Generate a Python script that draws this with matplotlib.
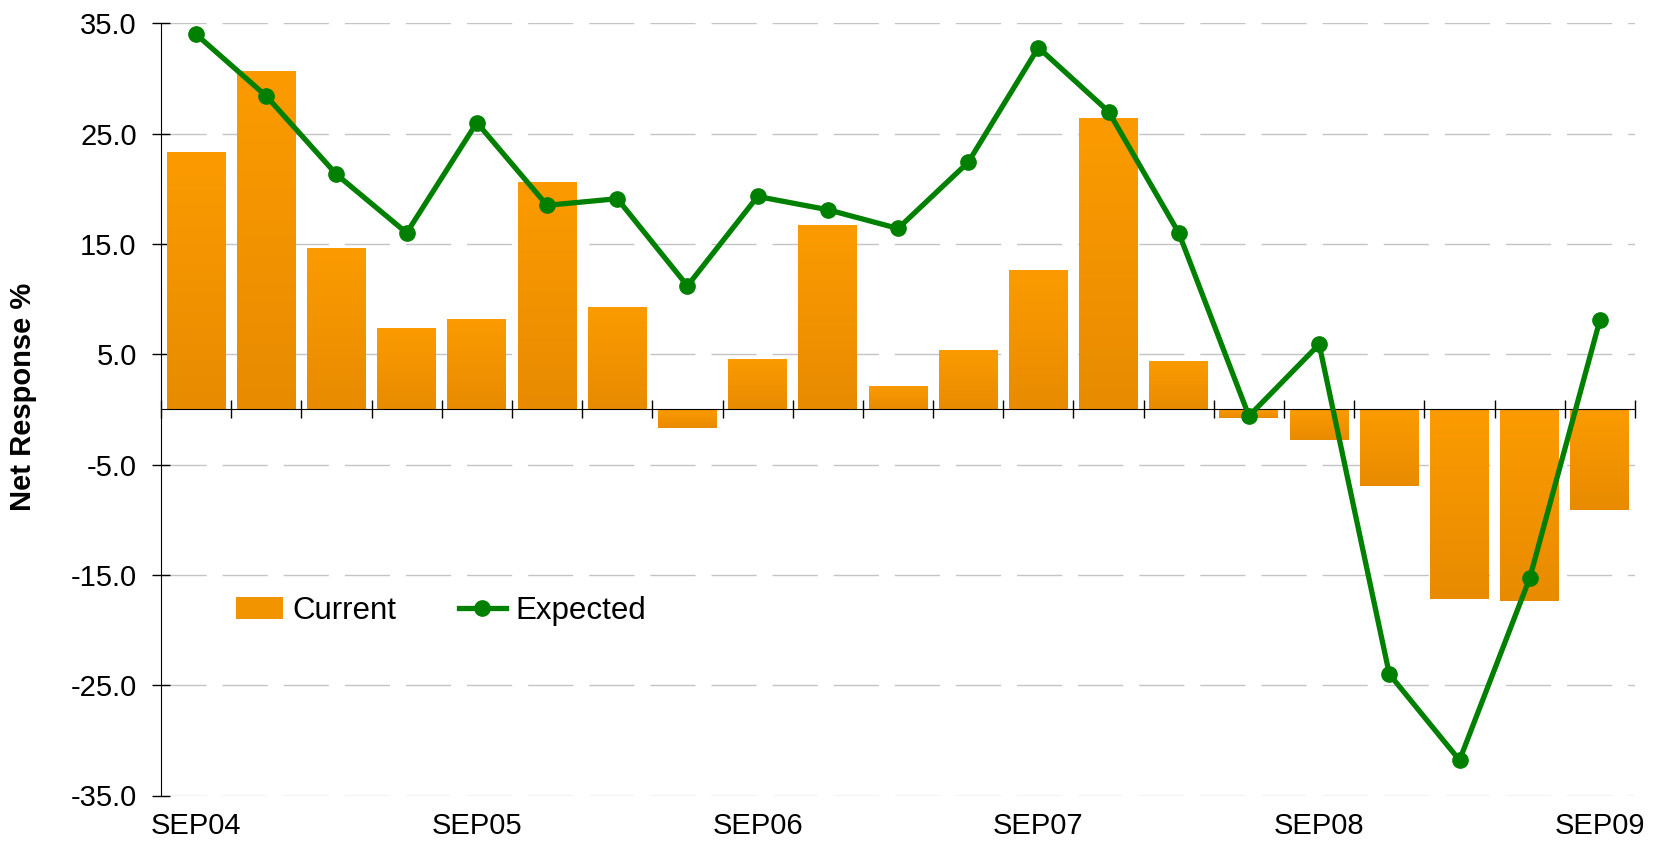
import numpy as np
import matplotlib
matplotlib.use("Agg")
import matplotlib.pyplot as plt
from matplotlib.colors import LinearSegmentedColormap

plt.rcParams['font.family'] = ['Liberation Sans', 'DejaVu Sans']
plt.rcParams['lines.scale_dashes'] = False

# quarterly survey, SEP04 .. SEP09
quarters = ['SEP04', 'DEC04', 'MAR05', 'JUN05', 'SEP05', 'DEC05', 'MAR06', 'JUN06',
            'SEP06', 'DEC06', 'MAR07', 'JUN07', 'SEP07', 'DEC07', 'MAR08', 'JUN08',
            'SEP08', 'DEC08', 'MAR09', 'JUN09', 'SEP09']
current = [23.3, 30.7, 14.6, 7.4, 8.2, 20.6, 9.3, -1.7, 4.6, 16.7, 2.1,
           5.4, 12.6, 26.4, 4.4, -0.75, -2.8, -6.9, -17.2, -17.4, -9.1]
expected = [34.0, 28.4, 21.3, 16.0, 26.0, 18.5, 19.1, 11.2, 19.3, 18.1, 16.4,
            22.4, 32.8, 27.0, 16.0, -0.6, 5.9, -24.0, -31.8, -15.3, 8.1]
label_every = 4
y_ticks = [35, 25, 15, 5, -5, -15, -25, -35]

ORANGE_TOP = '#FC9B00'
ORANGE_BOT = '#E88B00'
GREEN = '#008000'

fig = plt.figure(figsize=(16.56, 8.48), dpi=100)
ax = fig.add_axes([161/1656, 1 - 795.5/848, (1635 - 161)/1656, (795.5 - 23.3)/848])

x = np.arange(len(quarters))
bars = ax.bar(x, current, width=0.84, color='#F29300', label='Current', zorder=2)

# vertical gradient inside each bar
grad = LinearSegmentedColormap.from_list('og', [ORANGE_TOP, ORANGE_BOT])
g = np.linspace(0, 1, 256).reshape(-1, 1)
for b in bars:
    x0, y0 = b.get_x(), b.get_y()
    w, h = b.get_width(), b.get_height()
    lo, hi = min(y0, y0 + h), max(y0, y0 + h)
    im = ax.imshow(g, cmap=grad, aspect='auto', extent=(x0, x0 + w, lo, hi),
                   origin='upper', zorder=2.1, interpolation='bilinear')
    im.set_clip_path(b)

line, = ax.plot(x, expected, color=GREEN, lw=3.8, marker='o', ms=11,
                label='Expected', zorder=3)

ax.set_xlim(-0.5, len(quarters) - 0.5)
ax.set_ylim(-35, 35)

ax.set_yticks(y_ticks)
ax.set_yticklabels([f'{v:.1f}' for v in y_ticks])
ax.tick_params(axis='y', direction='inout', length=13, width=1, pad=11, labelsize=21)
ax.yaxis.grid(True, color='#C4C4C4', lw=1, linestyle=(0, (32.5, 11.5)))
ax.set_axisbelow(True)

# zero line with ticks between categories
ax.spines['bottom'].set_position(('data', 0))
ax.spines[['top', 'right']].set_visible(False)
ax.set_xticks(np.arange(len(quarters) + 1) - 0.5)
ax.tick_params(axis='x', direction='inout', length=13, width=1, labelbottom=False)

# category labels along the bottom edge
sec = ax.secondary_xaxis('bottom')
sec.set_xticks(x[::label_every])
sec.set_xticklabels(quarters[::label_every])
sec.tick_params(length=0, pad=12, labelsize=21)
sec.spines['bottom'].set_visible(False)

ax.set_ylabel('Net Response %', fontsize=21, fontweight='bold')
ax.yaxis.set_label_coords(-0.0843, 0.516)

ax.legend([bars, line], ['Current', 'Expected'], loc='center left',
          bbox_to_anchor=(0.051, 0.239), ncol=2, frameon=False,
          fontsize=22.5, handlelength=1.5, handleheight=0.7, handletextpad=0.3,
          columnspacing=2.0, borderpad=0, borderaxespad=0)

fig.savefig('out.png', dpi=100)
